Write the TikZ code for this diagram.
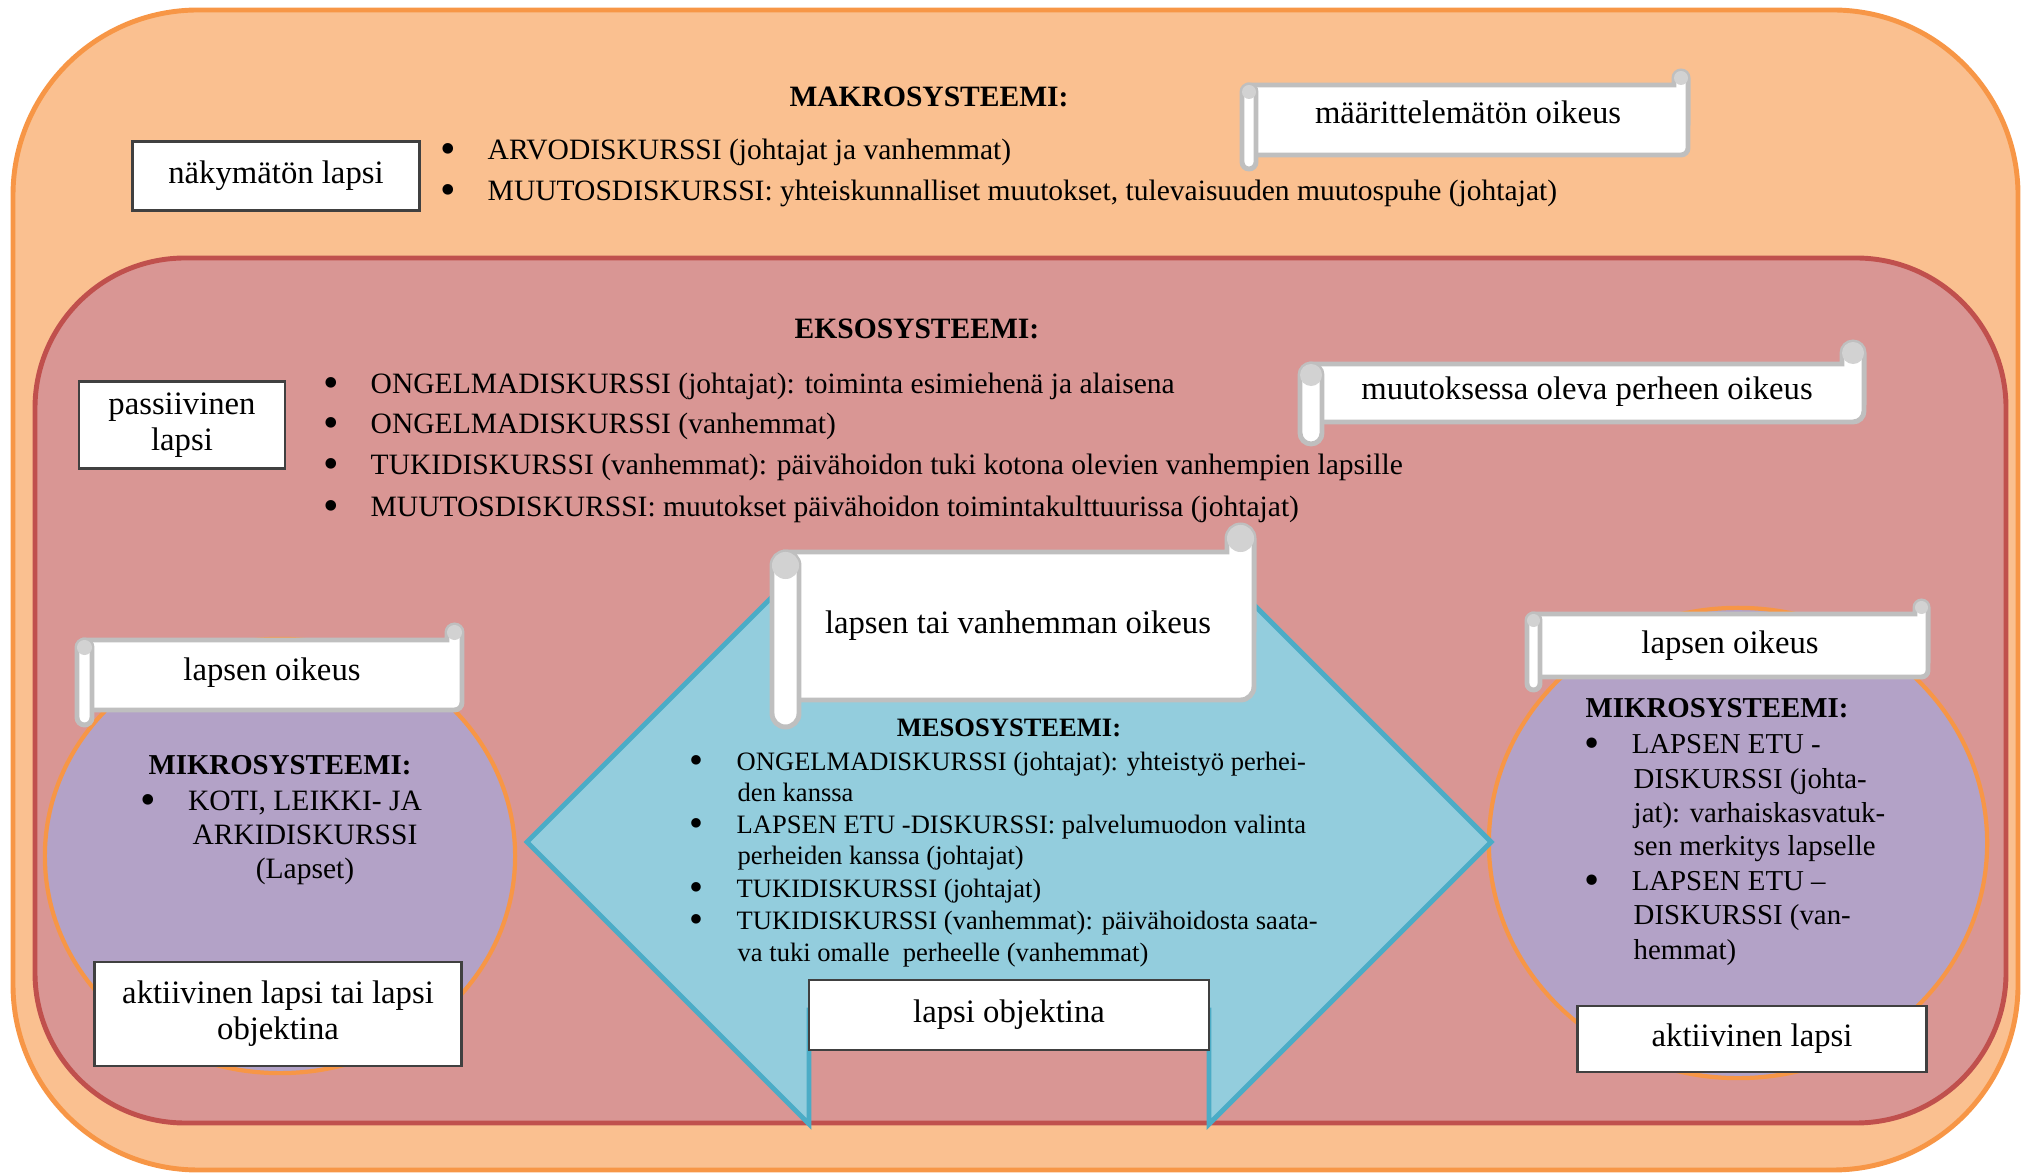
\documentclass[tikz,border=0pt]{standalone}
\usepackage{fontspec}
\usepackage{graphicx}
\setmainfont{Liberation Serif}

\definecolor{makrotaytto}{HTML}{FAC090}
\definecolor{makroreuna}{HTML}{F79646}
\definecolor{eksotaytto}{HTML}{D99694}
\definecolor{eksoreuna}{HTML}{C0504D}
\definecolor{mikrotaytto}{HTML}{B3A2C7}
\definecolor{mesotaytto}{HTML}{93CDDD}
\definecolor{mesoreuna}{HTML}{4BACC6}
\definecolor{rullaharmaa}{HTML}{BFBFBF}
\definecolor{laatikkoreuna}{HTML}{404040}

\newcommand{\tekstifontti}{\fontsize{8.4}{10}\selectfont}
\newcommand{\mikrofontti}{\fontsize{8.2}{10}\selectfont}
\newcommand{\mesofontti}{\fontsize{7.55}{9}\selectfont}
\newcommand{\nimifontti}{\fontsize{9.3}{10.3}\selectfont}
\newcommand{\isopallo}{\raisebox{-0.12em}{\scalebox{1.5}{\textbullet}}}
\newcommand{\pallo}{\makebox[0.47cm][l]{\isopallo}}

% kaarikirje: x1, y1 (rungon ylareuna), x2, y2 (rungon alareuna), rullan paksuus
\newcommand{\rulla}[5]{%
  \pgfmathsetlengthmacro{\rullasade}{#5*0.005cm}%
  \draw[rullaviiva, fill=white]
    ({#1+#5/2},#2) -- ({#3-#5},#2) -- ({#3-#5},{#2-#5/2})
    arc[start angle=180, end angle=0, radius=\rullasade]
    -- (#3,{#4-#5/2}) arc[start angle=0, end angle=-90, radius=\rullasade]
    -- ({#1+#5/2},#4) -- cycle;
  \fill[rullaharmaa!70] ({#3-#5/2},{#2-#5/2}) circle[radius=\rullasade];
  \draw[rullaviiva, fill=white, rounded corners=\rullasade] (#1,#2) rectangle ({#1+#5},{#4+#5});
  \fill[rullaharmaa!70] ({#1+#5/2},{#2+#5/2}) circle[radius=\rullasade];
}

\tikzset{
  rullaviiva/.style={draw=rullaharmaa, line width=1.4pt},
  laatikko/.style={draw=laatikkoreuna, line width=0.7pt, fill=white, inner sep=0pt, align=center, font=\nimifontti},
  nimi/.style={inner sep=0pt, font=\nimifontti, text height=0.7em, text depth=0.2em},
  rivi/.style={anchor=west, inner sep=0pt, font=\tekstifontti, text height=0.7em, text depth=0.2em},
  otsikko/.style={inner sep=0pt, font=\bfseries\tekstifontti},
}

\begin{document}
\begin{tikzpicture}[x=0.01cm, y=-0.01cm]
\useasboundingbox (0,0) rectangle (2025,1174);

% makrosysteemi ja eksosysteemi
\draw[fill=makrotaytto, draw=makroreuna, line width=1.4pt, rounded corners=1.85cm] (13,10) rectangle (2018,1170);
\draw[fill=eksotaytto, draw=eksoreuna, line width=1.4pt, rounded corners=1.5cm] (35,258) rectangle (2006,1123);

% mikrosysteemit
\draw[fill=mikrotaytto, draw=makroreuna, line width=1.2pt] (280,856) ellipse [x radius=2.35cm, y radius=2.17cm];
\draw[fill=mikrotaytto, draw=makroreuna, line width=1.2pt] (1738,843) ellipse [x radius=2.49cm, y radius=2.35cm];

% mesosysteemi
\draw[fill=mesotaytto, draw=mesoreuna, line width=1.4pt] (527,842) -- (809,560) -- (1209,560) -- (1491,842)
  -- (1209,1124) -- (1209,1010) -- (809,1010) -- (809,1124) -- cycle;

% oikeudet
\rulla{1242}{85}{1688}{155}{14}
\rulla{1300}{364}{1864}{422}{22}
\rulla{772}{552}{1254}{700}{27}
\rulla{77}{640}{462}{710}{15}
\rulla{1527}{614}{1928}{677}{13}

\node[nimi] (maarittelematon) at (1468,115) {määrittelemätön oikeus};
\node[nimi] (muutoksessa) at (1587,391) {muutoksessa oleva perheen oikeus};
\node[nimi] (vanhemman) at (1018,625) {lapsen tai vanhemman oikeus};
\node[nimi] (oikeus1) at (272,672) {lapsen oikeus};
\node[nimi] (oikeus2) at (1730,645) {lapsen oikeus};

% lapsikuvat
\node[laatikko, minimum width=2.87cm, minimum height=0.69cm] (nakymaton) at (276,176) {näkymätön lapsi};
\node[laatikko, minimum width=2.06cm, minimum height=0.87cm] (passiivinen) at (182,425) {passiivinen\\lapsi};
\node[laatikko, minimum width=3.67cm, minimum height=1.04cm] (aktiivinen1) at (278,1014) {aktiivinen lapsi tai lapsi\\objektina};
\node[laatikko, minimum width=4.00cm, minimum height=0.70cm] (objektina) at (1009,1015) {lapsi objektina};
\node[laatikko, minimum width=3.49cm, minimum height=0.66cm] (aktiivinen2) at (1752,1039) {aktiivinen lapsi};

% otsikot
\node[otsikko] (makro) at (929,97) {MAKROSYSTEEMI:};
\node[otsikko] (ekso) at (917,329) {EKSOSYSTEEMI:};
\node[otsikko, font=\bfseries\mesofontti] (meso) at (1009,728) {MESOSYSTEEMI:};
\node[otsikko, font=\bfseries\mikrofontti] (mikro1) at (280,765) {MIKROSYSTEEMI:};
\node[otsikko, font=\bfseries\mikrofontti, anchor=west] (mikro2) at (1585,708) {MIKROSYSTEEMI:};

% diskurssit
\foreach \y/\teksti [count=\i] in {151/{ARVODISKURSSI (johtajat ja vanhemmat)},
    192/{MUUTOSDISKURSSI: yhteiskunnalliset muutokset, tulevaisuuden muutospuhe (johtajat)}}
  \node[rivi] (makro-\i) at (440,\y) {\pallo\teksti};

\foreach \y/\teksti [count=\i] in {385/{ONGELMADISKURSSI (johtajat): toiminta esimiehenä ja alaisena},
    425/{ONGELMADISKURSSI (vanhemmat)},
    466/{TUKIDISKURSSI (vanhemmat): päivähoidon tuki kotona olevien vanhempien lapsille},
    508/{MUUTOSDISKURSSI: muutokset päivähoidon toimintakulttuurissa (johtajat)}}
  \node[rivi] (ekso-\i) at (323,\y) {\pallo\teksti};

\foreach \x/\y/\teksti [count=\i] in {689/762/{\pallo ONGELMADISKURSSI (johtajat): yhteistyö perhei-},
    737/793/{den kanssa},
    689/825/{\pallo LAPSEN ETU -DISKURSSI: palvelumuodon valinta},
    737/856/{perheiden kanssa (johtajat)},
    689/889/{\pallo TUKIDISKURSSI (johtajat)},
    689/921/{\pallo TUKIDISKURSSI (vanhemmat): päivähoidosta saata-},
    737/953/{va tuki omalle~ perheelle (vanhemmat)}}
  \node[rivi, font=\mesofontti] (meso-\i) at (\x,\y) {\teksti};

\node[rivi, anchor=center] (mikro1-pallo) at (148,802) {\isopallo};
\foreach \y/\teksti [count=\i] in {802/{KOTI, LEIKKI- JA}, 836/{ARKIDISKURSSI}, 870/{(Lapset)}}
  \node[rivi, anchor=center] (mikro1-\i) at (305,\y) {\teksti};

\foreach \x/\y/\teksti [count=\i] in {1584/745/{\pallo LAPSEN ETU -},
    1633/780/{DISKURSSI (johta-},
    1633/814/{jat): varhaiskasvatuk-},
    1633/847/{sen merkitys lapselle},
    1584/882/{\pallo LAPSEN ETU –},
    1633/916/{DISKURSSI (van-},
    1633/951/{hemmat)}}
  \node[rivi, font=\mikrofontti] (mikro2-\i) at (\x,\y) {\teksti};

\end{tikzpicture}
\end{document}
